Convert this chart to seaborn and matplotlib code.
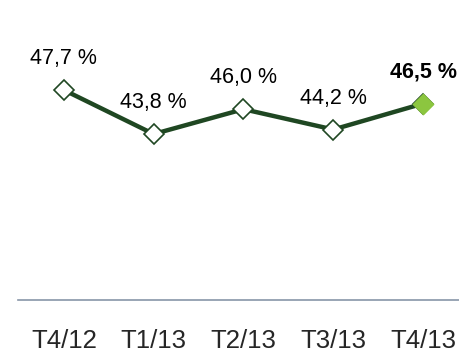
import numpy as np
import pandas as pd
import matplotlib
matplotlib.use("Agg")
import matplotlib.pyplot as plt
import seaborn as sns

periods = ["T4/12", "T1/13", "T2/13", "T3/13", "T4/13"]
values = [47.7, 43.8, 46.0, 44.2, 46.5]
labels = ["47,7 %", "43,8 %", "46,0 %", "44,2 %", "46,5 %"]

sns.set_style("white")
plt.rcParams['font.family'] = ['Liberation Sans', 'DejaVu Sans']

df = pd.DataFrame({"pos": np.arange(len(periods)), "val": values})

fig = plt.figure(figsize=(4.6, 3.52), dpi=100)
ax = fig.add_axes([18 / 460, 52 / 352, 442 / 460, 280 / 352])

line_col = "#1f4722"
sns.lineplot(data=df, x="pos", y="val", ax=ax, color=line_col, linewidth=3.2,
             marker="D", markersize=10, markerfacecolor="white",
             markeredgecolor=line_col, markeredgewidth=1.2, zorder=3)
last = df.iloc[[-1]]
sns.scatterplot(data=last, x="pos", y="val", ax=ax, marker="D", s=110,
                color="#8cc63f", edgecolor="#8cc63f", zorder=4)

for i, (v, lab) in enumerate(zip(values, labels)):
    ax.annotate(lab, (i, v), xytext=(0, 15), textcoords="offset points",
                ha="center", va="bottom", fontsize=15.5,
                fontweight="bold" if i == len(values) - 1 else "normal",
                color="black")

ax.set_xlim(-0.51, 4.41)
ax.set_ylim(29.1, 53.9)
ax.set_xticks(range(len(periods)))
ax.set_xticklabels(periods, fontsize=18.5)
ax.tick_params(axis="x", length=0, pad=21)
ax.set_yticks([])
ax.set_xlabel("")
ax.set_ylabel("")
for s in ["top", "left", "right"]:
    ax.spines[s].set_visible(False)
ax.spines["bottom"].set_color("#8896a8")
ax.spines["bottom"].set_linewidth(1.2)

fig.savefig("out.png", dpi=100)
